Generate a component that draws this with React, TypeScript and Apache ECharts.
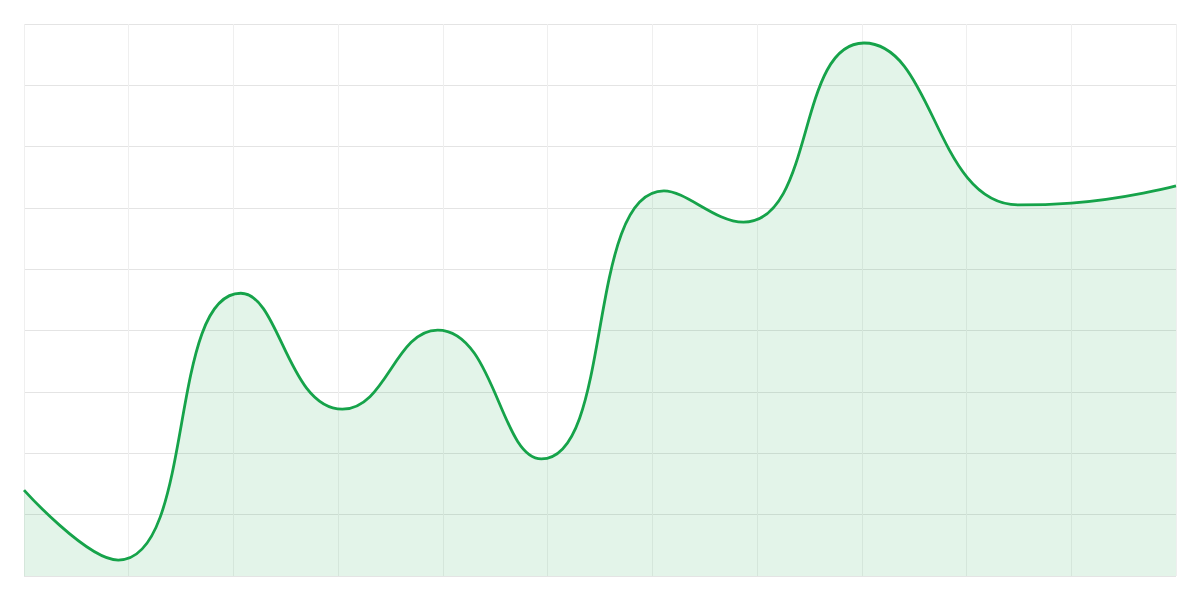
import { useEffect, useRef } from "react";
import * as echarts from "echarts";

// x in grid steps (0..11), y in units of 10 per horizontal line (0..90)
const xValues = [0, 0.9, 2.07, 3.04, 3.95, 4.94, 6.11, 6.87, 8.02, 9.5, 10, 11];
const yValues = [14.0, 2.6, 46.1, 27.2, 40.1, 19.1, 62.8, 57.7, 86.9, 60.5, 60.8, 63.6];

const GREEN = "#16a34a";

export default function App() {
  const ref = useRef<HTMLDivElement>(null);

  useEffect(() => {
    if (!ref.current) return;
    const chart = echarts.init(ref.current, undefined, { renderer: "svg" });

    chart.setOption({
      animation: false,
      backgroundColor: "#ffffff",
      grid: { left: 24, right: 24, top: 24, bottom: 24, containLabel: false },
      xAxis: {
        type: "value",
        min: 0,
        max: 11,
        interval: 1,
        axisLine: { show: false },
        axisTick: { show: false },
        axisLabel: { show: false },
        splitLine: { show: true, lineStyle: { color: "#efefef", width: 1 } },
      },
      yAxis: {
        type: "value",
        min: 0,
        max: 90,
        interval: 10,
        axisLine: { show: false },
        axisTick: { show: false },
        axisLabel: { show: false },
        splitLine: { show: true, lineStyle: { color: "#e4e4e4", width: 1 } },
      },
      series: [
        {
          type: "line",
          smooth: true,
          showSymbol: false,
          data: xValues.map((x, i) => [x, yValues[i]]),
          lineStyle: { color: GREEN, width: 2.8 },
          itemStyle: { color: GREEN },
          areaStyle: { color: "rgba(22,163,74,0.12)", opacity: 1 },
        },
      ],
    } as echarts.EChartsOption);

    return () => {
      chart.dispose();
    };
  }, []);

  return (
    <div
      ref={ref}
      style={{ position: "fixed", left: 0, top: 0, width: 1200, height: 600 }}
    />
  );
}
